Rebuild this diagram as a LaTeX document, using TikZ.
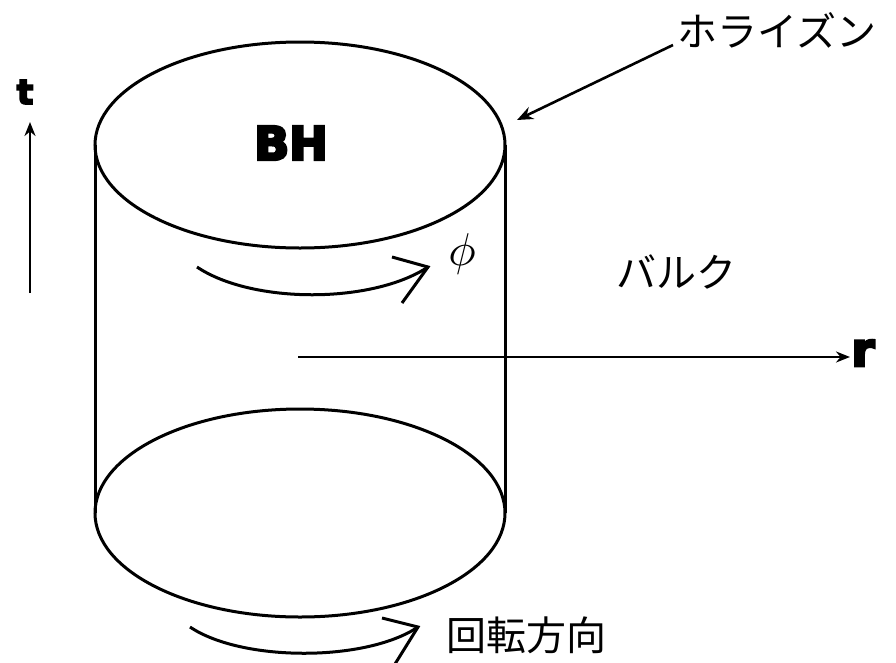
\documentclass[tikz,border=0pt]{standalone}
\usepackage{fontspec}
\setmainfont{Liberation Serif}
\newfontfamily\cjk{Noto Sans CJK JP}
\newfontfamily\heavy{DejaVu Sans Bold}[FakeBold=6]
\usetikzlibrary{arrows.meta}
\begin{document}
\begin{tikzpicture}[x=1pt,y=-1pt,line width=3pt,
  jlabel/.style={inner sep=0pt,font=\cjk\fontsize{40}{40}\selectfont},
  blabel/.style={inner sep=0pt},
  axis/.style={line width=2.6pt,-{Stealth[length=14pt,width=11pt]}}]
\useasboundingbox (0,0) rectangle (896,662);
% cylinder
\draw (300,145) ellipse [x radius=205, y radius=103];
\draw (300,513) ellipse [x radius=205, y radius=104];
\coordinate (tl) at (95,145); \coordinate (bl) at (95,513);
\coordinate (tr) at (505,145); \coordinate (br) at (505,513);
\draw (tl) -- (bl);
\draw (tr) -- (br);
% labels
\node[blabel] (bh) at (291,143) {\heavy\fontsize{46}{46}\selectfont BH};
\node[blabel,scale=4.6] (phi) at (462,254) {$\phi$};
\node[jlabel] (bulk) at (676,272) {バルク};
\node[jlabel] (hor) at (777,30) {ホライズン};
\node[jlabel] (rot) at (526,635) {回転方向};
\node[blabel] (t) at (25,92) {\heavy\fontsize{34}{34}\selectfont t};
\node[blabel] (r) at (863,353) {\heavy\fontsize{46}{46}\selectfont r};
% axes
\coordinate (t0) at (30,293); \coordinate (t1) at (30,122);
\draw[axis] (t0) -- (t1);
\coordinate (r0) at (298,357); \coordinate (r1) at (850,357);
\draw[axis] (r0) -- (r1);
% horizon pointer
\coordinate (hs) at (673,45); \coordinate (he) at (517,120);
\draw[line width=2.6pt,-{Stealth[length=16pt,width=13pt]}] (hs) -- (he);
% phi rotation arrow
\coordinate (p0) at (197,267); \coordinate (p1) at (428,267);
\draw (p0) .. controls (252,304) and (372,304) .. (p1);
\draw (392,257) -- (p1) -- (402,303);
% rotation direction arrow
\coordinate (q0) at (190,627); \coordinate (q1) at (418,627);
\draw (q0) .. controls (242,662) and (366,662) .. (q1);
\draw (382,618) -- (q1) -- (395,664);
\end{tikzpicture}
\end{document}
